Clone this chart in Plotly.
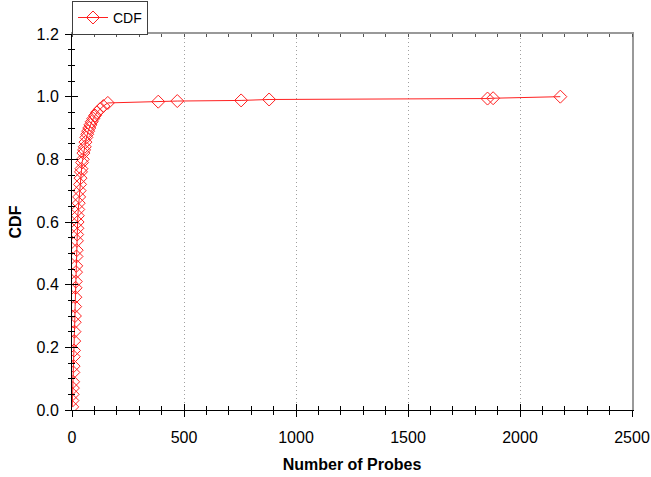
import plotly.graph_objects as go

# Number of probes and the cumulative fraction reached at each count
probes = [1, 2, 3, 4, 5, 6, 7, 8, 9, 10, 11, 12, 13, 14, 15, 16, 17, 18, 19, 20,
          21, 22, 23, 24, 25, 26, 28, 30, 32, 34, 36, 38, 40, 42, 45, 48, 51, 54,
          57, 60, 64, 68, 72, 77, 82, 88, 95, 103, 112, 125, 140, 160,
          385, 470, 755, 880, 1855, 1880, 2180]
cdf = [0.01, 0.03, 0.05, 0.07, 0.09, 0.12, 0.14, 0.17, 0.19, 0.22, 0.25, 0.28,
       0.30, 0.33, 0.36, 0.39, 0.41, 0.44, 0.46, 0.49, 0.51, 0.54, 0.56, 0.58,
       0.60, 0.62, 0.64, 0.66, 0.68, 0.70, 0.72, 0.74, 0.76, 0.77, 0.79, 0.80,
       0.82, 0.83, 0.84, 0.855, 0.87, 0.88, 0.89, 0.90, 0.91, 0.92, 0.93, 0.94,
       0.95, 0.96, 0.97, 0.98,
       0.984, 0.986, 0.988, 0.991, 0.994, 0.995, 1.0]

x_range = [0, 2500]
y_range = [0, 1.2]
x_ticks = [0, 500, 1000, 1500, 2000, 2500]
y_ticks = [0.0, 0.2, 0.4, 0.6, 0.8, 1.0, 1.2]

FONT = "Arial, Liberation Sans, sans-serif"
RED = "#ff2020"

fig = go.Figure()
fig.add_trace(go.Scatter(
    x=probes, y=cdf, name="CDF", mode="lines+markers",
    line=dict(color=RED, width=1),
    marker=dict(symbol="diamond-open", size=10, color=RED, line=dict(width=1)),
))
# empty traces that carry the inner half of the crossing ticks and the frame
fig.add_trace(go.Scatter(x=[None], y=[None], xaxis="x2", yaxis="y2",
                         showlegend=False, hoverinfo="skip"))
fig.add_trace(go.Scatter(x=[None], y=[None], xaxis="x3", yaxis="y3",
                         showlegend=False, hoverinfo="skip"))

fig.update_layout(
    width=651, height=477,
    margin=dict(l=72, r=19, t=34, b=67, autoexpand=False),
    paper_bgcolor="white", plot_bgcolor="white",
    font=dict(family=FONT, size=16, color="black"),
    showlegend=True,
    legend=dict(x=0.0, y=1.088, xanchor="left", yanchor="top",
                bgcolor="white", bordercolor="#404040", borderwidth=1,
                font=dict(size=14), itemwidth=30, tracegroupgap=0),
    xaxis=dict(
        range=x_range, tickvals=x_ticks, ticks="outside", ticklen=6,
        tickcolor="black", tickwidth=1, ticklabelstandoff=7,
        showline=True, linecolor="black", linewidth=1,
        showgrid=True, gridcolor="#a0a0a0", griddash="1px,3px", gridwidth=1,
        zeroline=False,
        minor=dict(dtick=100, ticks="outside", ticklen=4, tickcolor="black",
                   showgrid=False),
        title=dict(text="<b>Number of Probes</b>", font=dict(size=16), standoff=13),
    ),
    yaxis=dict(
        range=y_range, tickvals=y_ticks, tickformat=".1f", ticks="outside",
        ticklen=6, tickcolor="black", tickwidth=1, ticklabelstandoff=3,
        showline=True, linecolor="black", linewidth=1,
        showgrid=False, zeroline=False,
        minor=dict(dtick=0.05, ticks="outside", ticklen=3, tickcolor="black"),
        title=dict(text="<b>CDF</b>", font=dict(size=16), standoff=10),
    ),
    xaxis2=dict(
        overlaying="x", range=x_range, tickvals=x_ticks, ticks="inside",
        ticklen=6, tickcolor="black", showticklabels=False, showgrid=False,
        zeroline=False, showline=False,
        minor=dict(dtick=100, ticks="inside", ticklen=4, tickcolor="black"),
    ),
    yaxis2=dict(
        overlaying="y", range=y_range, tickvals=y_ticks, ticks="inside",
        ticklen=6, tickcolor="black", showticklabels=False, showgrid=False,
        zeroline=False, showline=False,
        minor=dict(dtick=0.05, ticks="inside", ticklen=3, tickcolor="black"),
    ),
    xaxis3=dict(
        overlaying="x", side="top", range=x_range, tickvals=[],
        showline=True, linecolor="#999999", linewidth=2,
        showticklabels=False, showgrid=False, zeroline=False,
        minor=dict(dtick=100, ticks="inside", ticklen=3, tickcolor="#555555"),
    ),
    yaxis3=dict(
        overlaying="y", side="right", range=y_range, tickvals=[],
        showline=True, linecolor="#999999", linewidth=2,
        showticklabels=False, showgrid=False, zeroline=False,
    ),
)

fig.write_html("out.html")
